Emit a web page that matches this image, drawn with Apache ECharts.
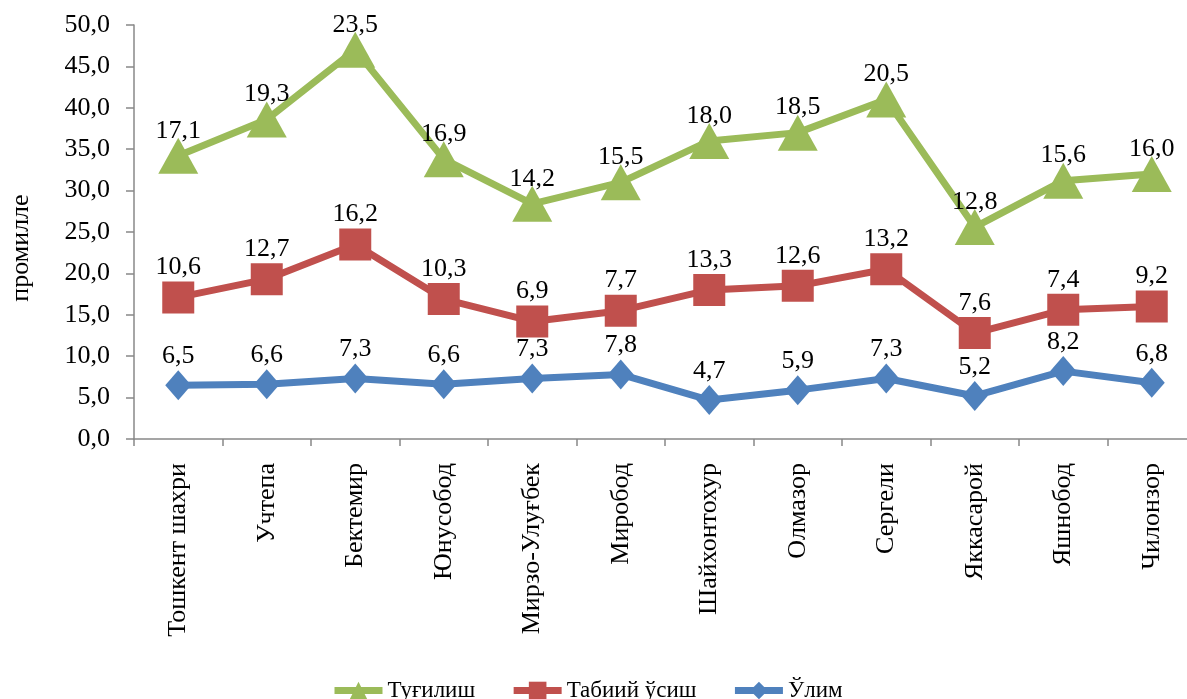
<!DOCTYPE html>
<html>
<head>
<meta charset="utf-8">
<script src="https://cdn.jsdelivr.net/npm/echarts@6/dist/echarts.min.js"></script>
<style>
html,body{margin:0;padding:0;background:#fff;overflow:hidden;}
#chart{width:1200px;height:699px;}
</style>
</head>
<body>
<div id="chart"></div>
<script>
const categories = ['Тошкент шахри','Учтепа','Бектемир','Юнусобод','Мирзо-Улуғбек','Миробод','Шайхонтохур','Олмазор','Сергели','Яккасарой','Яшнобод','Чилонзор'];
const deaths = [6.5, 6.6, 7.3, 6.6, 7.3, 7.8, 4.7, 5.9, 7.3, 5.2, 8.2, 6.8];
const natural = [10.6, 12.7, 16.2, 10.3, 6.9, 7.7, 13.3, 12.6, 13.2, 7.6, 7.4, 9.2];
const births = [17.1, 19.3, 23.5, 16.9, 14.2, 15.5, 18.0, 18.5, 20.5, 12.8, 15.6, 16.0];
const seriesNames = ['Туғилиш','Табиий ўсиш','Ўлим'];

const FONT = '"Liberation Serif","Times New Roman",serif';
const FS = 26;
const fmt = v => v.toFixed(1).replace('.', ',');
const labelCfg = (d) => ({
  show: true, position: 'top', distance: d,
  fontFamily: FONT, fontSize: FS, color: '#000',
  formatter: p => fmt(p.value)
});

const chart = echarts.init(document.getElementById('chart'));
chart.setOption({
  animation: false,
  grid: {left: 131, right: 4, top: 25, bottom: 260},
  legend: {
    data: seriesNames, bottom: -8, left: 326, itemGap: 35,
    itemWidth: 48, itemHeight: 22,
    lineStyle: {width: 7},
    textStyle: {fontFamily: FONT, fontSize: 23, color: '#000'}
  },
  xAxis: {
    type: 'category', data: categories, boundaryGap: true,
    axisLine: {lineStyle: {color: '#888', width: 1.5}},
    axisTick: {show: true, length: 7, lineStyle: {color: '#888', width: 1.5}},
    axisLabel: {rotate: 90, margin: 24, fontFamily: FONT, fontSize: FS, color: '#000', interval: 0}
  },
  yAxis: {
    type: 'value', min: 0, max: 50, interval: 5,
    name: 'промилле', nameLocation: 'middle', nameGap: 100, nameRotate: 90,
    nameTextStyle: {fontFamily: FONT, fontSize: FS, color: '#000', padding: [0, 32, 0, 0]},
    axisLine: {show: true, lineStyle: {color: '#888', width: 1.5}},
    axisTick: {show: true, length: 8, lineStyle: {color: '#888', width: 1.5}},
    splitLine: {show: false},
    axisLabel: {margin: 24, fontFamily: FONT, fontSize: FS, color: '#000', formatter: v => fmt(v)}
  },
  series: [
    {
      name: 'Ўлим', type: 'line', stack: 'total', data: deaths,
      symbol: 'diamond', symbolSize: [26, 30],
      itemStyle: {color: '#4F81BD'}, lineStyle: {width: 7, color: '#4F81BD'},
      label: labelCfg(1), z: 3
    },
    {
      name: 'Табиий ўсиш', type: 'line', stack: 'total', data: natural,
      symbol: 'rect', symbolSize: 32,
      itemStyle: {color: '#C0504D'}, lineStyle: {width: 7, color: '#C0504D'},
      label: labelCfg(1), z: 3
    },
    {
      name: 'Туғилиш', type: 'line', stack: 'total', data: births,
      symbol: 'triangle', symbolSize: [40, 36],
      itemStyle: {color: '#9BBB59'}, lineStyle: {width: 7, color: '#9BBB59'},
      label: labelCfg(-6), z: 3
    }
  ]
});
</script>
</body>
</html>
